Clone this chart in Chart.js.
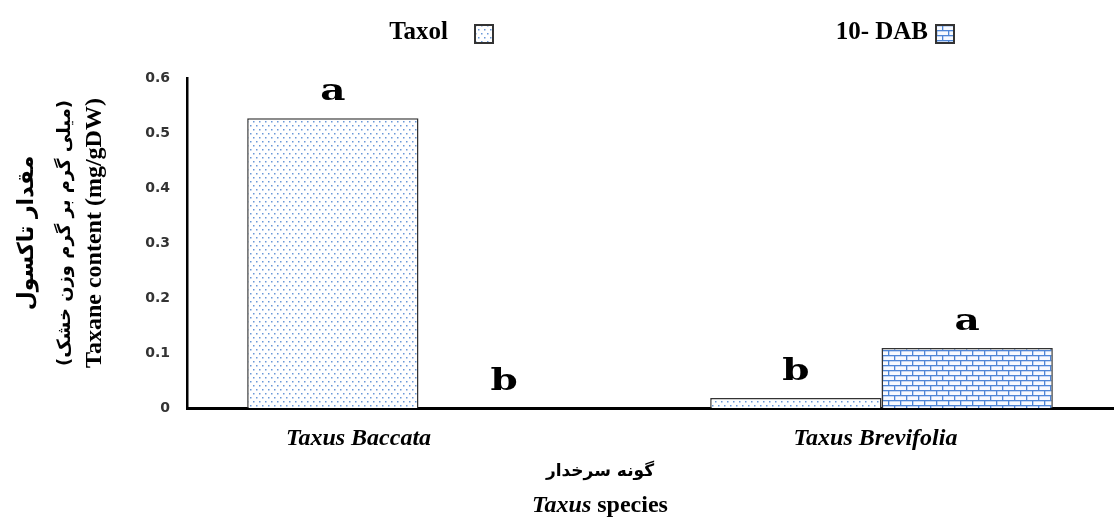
<!DOCTYPE html>
<html>
<head>
<meta charset="utf-8">
<script src="https://cdn.jsdelivr.net/npm/chart.js"></script>
<style>
  html, body { margin: 0; padding: 0; background: #fff; }
</style>
</head>
<body>
<canvas id="chart" width="1115" height="521"></canvas>
<script>
// data
const categories = ['Taxus Baccata', 'Taxus Brevifolia'];
const seriesNames = ['Taxol', '10- DAB'];
const taxolValues = [0.527, 0.018];
const dabValues = [0, 0.109];
const taxolLetters = ['a', 'b'];
const dabLetters = ['b', 'a'];
const yTitle = ['مقدار تاکسول', '(میلی گرم بر گرم وزن خشک)', 'Taxane content (mg/gDW)'];
const xTitle = ['گونه سرخدار', 'Taxus', ' species'];

const serif = '"Liberation Serif", "DejaVu Sans", serif';
const arabic = '"DejaVu Sans", sans-serif';

// fill patterns
function dotPattern() {
    const c = document.createElement('canvas');
    c.width = 6; c.height = 8;
    const g = c.getContext('2d');
    g.fillStyle = '#ffffff';
    g.fillRect(0, 0, 6, 8);
    g.fillStyle = '#6a98d8';
    g.fillRect(1, 1, 1.5, 1.5);
    g.fillRect(4, 5, 1.5, 1.5);
    return g.createPattern(c, 'repeat');
}

function brickPattern() {
    const c = document.createElement('canvas');
    c.width = 12; c.height = 10;
    const g = c.getContext('2d');
    g.fillStyle = '#f7faff';
    g.fillRect(0, 0, 12, 10);
    g.fillStyle = '#4f86d6';
    g.fillRect(0, 0, 12, 1.3);
    g.fillRect(0, 5, 12, 1.3);
    g.fillRect(0, 0, 1.3, 5);
    g.fillRect(6, 5, 1.3, 5);
    return g.createPattern(c, 'repeat');
}

const dots = dotPattern();
const bricks = brickPattern();

const extras = {
    id: 'extras',
    afterDatasetsDraw(chart) {
        const ctx = chart.ctx;
        ctx.save();
        ctx.font = 'bold 30px "DejaVu Serif", serif';
        ctx.fillStyle = '#000';
        ctx.textAlign = 'center';
        ctx.textBaseline = 'alphabetic';
        [taxolLetters, dabLetters].forEach((letters, di) => {
            chart.getDatasetMeta(di).data.forEach((bar, i) => {
                ctx.save();
                ctx.translate(bar.x, bar.y - 18);
                ctx.scale(1.3, 1);   // the letters are set wide in the original
                ctx.fillText(letters[i], 0, 0);
                ctx.restore();
            });
        });
        ctx.restore();
    },
    afterDraw(chart) {
        const ctx = chart.ctx;
        const area = chart.chartArea;
        ctx.save();
        // legend (text on the left, box on the right)
        ctx.font = 'bold 25px ' + serif;
        ctx.textBaseline = 'middle';
        ctx.textAlign = 'right';
        const items = [
            { text: seriesNames[0], textRight: 448, boxLeft: 475, fill: dots },
            { text: seriesNames[1], textRight: 928, boxLeft: 936, fill: bricks }
        ];
        items.forEach(it => {
            ctx.fillStyle = '#000';
            ctx.fillText(it.text, it.textRight, 33);
            ctx.fillStyle = it.fill;
            ctx.fillRect(it.boxLeft, 25, 18, 18);
            ctx.strokeStyle = '#333';
            ctx.lineWidth = 2;
            ctx.strokeRect(it.boxLeft, 25, 18, 18);
        });

        // y axis title, three rotated lines
        const cy = (area.top + area.bottom) / 2 - 10;
        const yLines = [
            { text: yTitle[0], x: 27, font: 'bold 22px ' + arabic },
            { text: yTitle[1], x: 65, font: 'bold 18px ' + arabic },
            { text: yTitle[2], x: 95, font: 'bold 24px ' + serif }
        ];
        ctx.fillStyle = '#000';
        ctx.textAlign = 'center';
        ctx.textBaseline = 'middle';
        yLines.forEach(l => {
            ctx.save();
            ctx.translate(l.x, cy);
            ctx.rotate(-Math.PI / 2);
            ctx.font = l.font;
            ctx.fillText(l.text, 0, 0);
            ctx.restore();
        });

        // x axis title, two lines
        const cx = 600;
        ctx.textAlign = 'center';
        ctx.textBaseline = 'alphabetic';
        ctx.font = 'bold 17px ' + arabic;
        ctx.fillText(xTitle[0], cx, 476);
        const italic = 'italic bold 24px ' + serif;
        const bold = 'bold 24px ' + serif;
        ctx.font = italic;
        const w1 = ctx.measureText(xTitle[1]).width;
        ctx.font = bold;
        const w2 = ctx.measureText(xTitle[2]).width;
        const start = cx - (w1 + w2) / 2;
        ctx.textAlign = 'left';
        ctx.font = italic;
        ctx.fillText(xTitle[1], start, 512);
        ctx.font = bold;
        ctx.fillText(xTitle[2], start + w1, 512);
        ctx.restore();
    }
};

new Chart(document.getElementById('chart'), {
    type: 'bar',
    data: {
        labels: categories,
        datasets: [
            {
                label: seriesNames[0],
                data: taxolValues,
                backgroundColor: dots,
                borderColor: '#333',
                borderWidth: 1.5,
                borderSkipped: 'bottom'
            },
            {
                label: seriesNames[1],
                data: dabValues,
                backgroundColor: bricks,
                borderColor: '#333',
                borderWidth: 1.5,
                borderSkipped: 'bottom'
            }
        ]
    },
    options: {
        responsive: false,
        animation: false,
        devicePixelRatio: 1,
        categoryPercentage: 0.74,
        barPercentage: 1,
        layout: { padding: { top: 78, right: 2, left: 0, bottom: 0 } },
        plugins: {
            legend: { display: false },
            tooltip: { enabled: false }
        },
        scales: {
            x: {
                grid: { display: false, drawTicks: false },
                border: { display: true, color: '#000', width: 3 },
                ticks: {
                    padding: 16,
                    labelOffset: -6,
                    color: '#000',
                    font: { family: serif, size: 24, style: 'italic', weight: 'bold' },
                    // first label sits left of its group in the original
                    callback: (v, i) => categories[i] + (i === 0 ? '\u00a0'.repeat(18) : '')
                },
                afterFit(scale) { scale.height = 113; }
            },
            y: {
                min: 0,
                max: 0.6,
                grid: { display: false, drawTicks: false },
                border: { display: true, color: '#000', width: 2.5 },
                ticks: {
                    stepSize: 0.1,
                    padding: 17,
                    color: '#333',
                    font: { family: '"DejaVu Sans", sans-serif', size: 14, weight: 'bold' },
                    callback: v => v === 0 ? '0' : v.toFixed(1)
                },
                afterFit(scale) { scale.width = 187; }
            }
        }
    },
    plugins: [extras]
});
</script>
</body>
</html>
